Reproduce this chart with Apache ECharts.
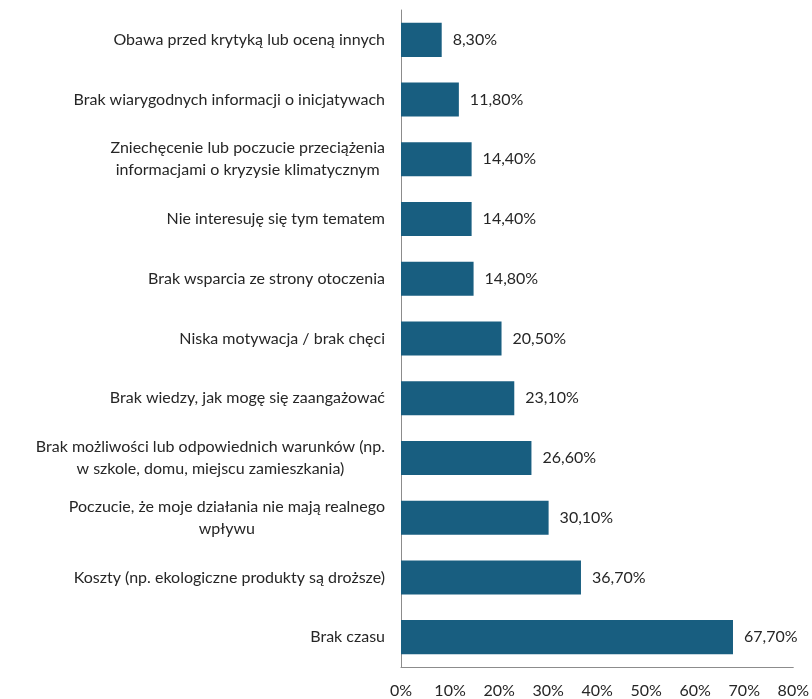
<!DOCTYPE html>
<html>
<head>
<meta charset="utf-8">
<script src="https://cdn.jsdelivr.net/npm/echarts@6/dist/echarts.min.js"></script>
<style>
  html, body { margin: 0; padding: 0; background: #fff; }
  #chart { width: 812px; height: 699px; }
</style>
</head>
<body>
<div id="chart"></div>
<script>
// Barriers to engagement, share of respondents (%)
const categories = [
  'Brak czasu',
  'Koszty (np. ekologiczne produkty są droższe)',
  'Poczucie, że moje działania nie mają realnego\nwpływu',
  'Brak możliwości lub odpowiednich warunków (np.\nw szkole, domu, miejscu zamieszkania)',
  'Brak wiedzy, jak mogę się zaangażować',
  'Niska motywacja / brak chęci',
  'Brak wsparcia ze strony otoczenia',
  'Nie interesuję się tym tematem',
  'Zniechęcenie lub poczucie przeciążenia\ninformacjami o kryzysie klimatycznym',
  'Brak wiarygodnych informacji o inicjatywach',
  'Obawa przed krytyką lub oceną innych'
];
const values = [67.7, 36.7, 30.1, 26.6, 23.1, 20.5, 14.8, 14.4, 14.4, 11.8, 8.3];
const xTicks = [0, 10, 20, 30, 40, 50, 60, 70, 80];

const FONT = 'Lato';
const SIZE = 16;
const TEXT = '#262626';
const chart = echarts.init(document.getElementById('chart'));

chart.setOption({
  animation: false,
  grid: { left: 401, right: 17, top: 10, bottom: 32, containLabel: false },
  xAxis: {
    type: 'value',
    min: xTicks[0],
    max: xTicks[xTicks.length - 1],
    interval: xTicks[1] - xTicks[0],
    axisLine: { show: true, lineStyle: { color: '#8c8c8c', width: 1 } },
    axisTick: { show: false },
    splitLine: { show: false },
    axisLabel: {
      color: TEXT,
      fontFamily: FONT,
      fontSize: SIZE,
      margin: 16,
      formatter: v => v + '%'
    }
  },
  yAxis: {
    type: 'category',
    data: categories,
    axisLine: { show: true, lineStyle: { color: '#8c8c8c', width: 1 } },
    axisTick: { show: false },
    axisLabel: {
      align: 'right',
      margin: 16,
      color: TEXT,
      fontFamily: FONT,
      fontSize: SIZE,
      lineHeight: 22,
      formatter: s => s.split('\n').map(l => '{c|' + l + '}').join('\n'),
      rich: {
        c: { align: 'center', fontFamily: FONT, fontSize: SIZE, lineHeight: 22, color: TEXT }
      }
    }
  },
  series: [{
    type: 'bar',
    data: values,
    barCategoryGap: '43%',
    itemStyle: { color: '#185e80' },
    label: {
      show: true,
      position: 'right',
      distance: 11,
      color: TEXT,
      fontFamily: FONT,
      fontSize: SIZE,
      formatter: p => p.value.toFixed(2).replace('.', ',') + '%'
    }
  }]
});
</script>
</body>
</html>
